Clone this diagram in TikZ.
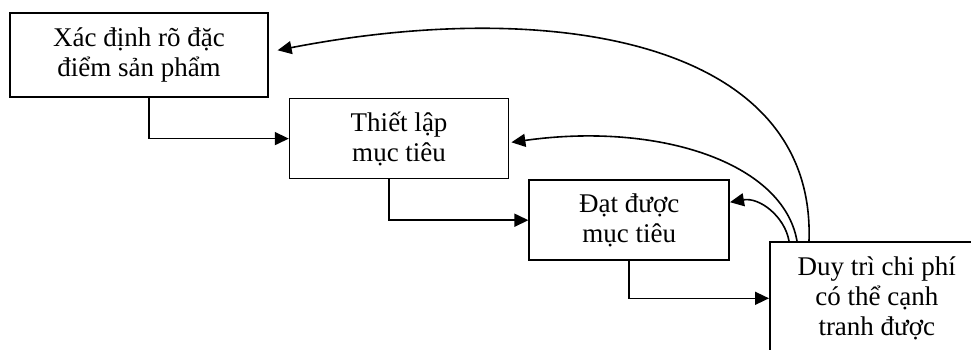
\documentclass[tikz,border=0pt]{standalone}
\usepackage{fontspec}
\setmainfont{Liberation Serif}
\usetikzlibrary{positioning,arrows.meta}

\begin{document}
\begin{tikzpicture}
    [
    x=1pt, y=1pt,
    basic/.style={draw, line width=1.6pt, align=center, font=\fontsize{27pt}{30pt}\selectfont},
    box/.style={basic, inner sep=2pt},
    link/.style={line width=1.6pt, ->},
    >={Triangle[length=14pt, width=13pt]}
    ]
    \useasboundingbox (0,0) rectangle (971,-349);

    % Cac buoc
    \node [box, minimum width=258pt, minimum height=84pt] (dacdiem) at (139,-55) {Xác định rõ đặc\\điểm sản phẩm};
    \node [box, minimum width=219pt, minimum height=80pt, below right=0pt and 20pt of dacdiem.south east] (muctieu) {Thiết lập\\mục tiêu};
    \node [box, minimum width=200pt, minimum height=80pt, below right=0pt and 19pt of muctieu.south east] (datduoc) {Đạt được\\mục tiêu};
    \node [box, minimum width=214pt, minimum height=113pt, below right=-20pt and 39pt of datduoc.south east] (duytri) {Duy trì chi phí\\có thể cạnh\\tranh được};
    % Mui ten bac thang
    \draw [link] ([xshift=10pt]dacdiem.south) |- (muctieu.west);
    \draw [link] ([xshift=-10pt]muctieu.south) |- (datduoc.west);
    \draw [link] (datduoc.south) |- (duytri.west);
    % Mui ten phan hoi
    \draw [link] ([xshift=20pt]duytri.north west) to[out=100, in=10, out distance=25pt, in distance=30pt] ([yshift=18pt]datduoc.east);
    \draw [link, shorten >=2pt] ([xshift=28pt]duytri.north west) to[out=100, in=8, out distance=80pt, in distance=150pt] ([yshift=-4pt]muctieu.east);
    \draw [link, shorten >=9pt] ([xshift=40pt]duytri.north west) to[out=88, in=11, out distance=200pt, in distance=290pt] ([yshift=3pt]dacdiem.east);
\end{tikzpicture}
\end{document}
